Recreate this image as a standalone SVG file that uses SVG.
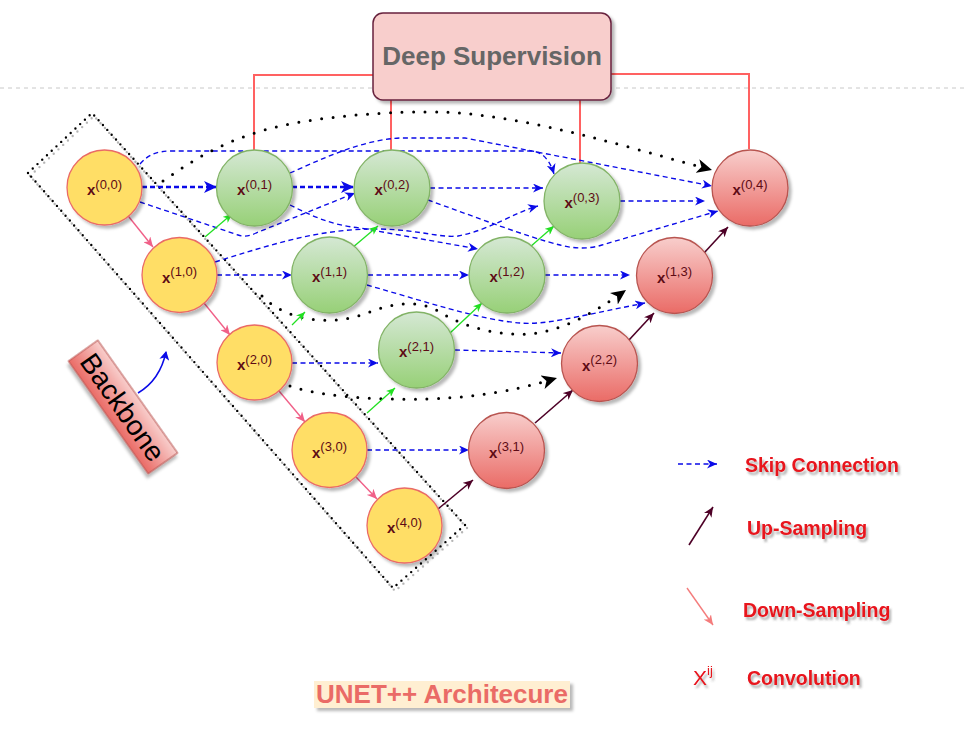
<svg xmlns="http://www.w3.org/2000/svg" width="967" height="729" viewBox="0 0 967 729">
<style>
text{font-family:"Liberation Sans",Arial,sans-serif}
.lbl{fill:#5e0b15;text-anchor:middle}
.xb{font-size:15px;font-weight:bold}
.sup{font-size:13px}
.y{fill:#FFDE66;stroke:#EA6B66;stroke-width:1.3}
.g{fill:url(#gG);stroke:#82b366;stroke-width:1.3}
.r{fill:url(#gR);stroke:#b85450;stroke-width:1.3}
.sk{fill:none;stroke:#0a0ae8;stroke-width:1.35;stroke-dasharray:5 3.5;marker-end:url(#mB)}
.skt{fill:none;stroke:#0a0ae8;stroke-width:2.4;stroke-dasharray:5 3;marker-end:url(#mBt)}
.gr{fill:none;stroke:#22e022;stroke-width:1.3;marker-end:url(#mG)}
.up{fill:none;stroke:#4d0026;stroke-width:1.6;marker-end:url(#mM)}
.dn{fill:none;stroke:#F06088;stroke-width:1.4;marker-end:url(#mP)}
.dot{fill:none;stroke:#000;stroke-width:3;stroke-linecap:round;stroke-dasharray:0 11.5;marker-end:url(#mK)}
.ds{fill:none;stroke:#FF6161;stroke-width:2}
.leg{fill:#E8121C;font-weight:bold;font-size:19.5px}
</style>
<defs>
<linearGradient id="gG" x1="0" y1="0" x2="0" y2="1"><stop offset="0" stop-color="#d5e8d4"/><stop offset="1" stop-color="#97d077"/></linearGradient>
<linearGradient id="gR" x1="0" y1="0" x2="0" y2="1"><stop offset="0" stop-color="#f8cecc"/><stop offset="1" stop-color="#ea6b66"/></linearGradient>
<filter id="sh" x="-20%" y="-20%" width="150%" height="150%"><feDropShadow dx="3" dy="3" stdDeviation="1.5" flood-color="#000" flood-opacity="0.28"/></filter>
<filter id="tsh" x="-10%" y="-30%" width="130%" height="170%"><feDropShadow dx="2" dy="3" stdDeviation="1.2" flood-color="#555" flood-opacity="0.45"/></filter>
<marker id="mB" markerUnits="userSpaceOnUse" markerWidth="11" markerHeight="9" refX="10" refY="4.5" orient="auto"><path d="M0,0 L10,4.5 L0,9 L3,4.5 Z" fill="#0a0ae8"/></marker>
<marker id="mBt" markerUnits="userSpaceOnUse" markerWidth="14" markerHeight="12" refX="13" refY="6" orient="auto"><path d="M0,0 L13,6 L0,12 L3.5,6 Z" fill="#0a0ae8"/></marker>
<marker id="mG" markerUnits="userSpaceOnUse" markerWidth="10" markerHeight="8" refX="9" refY="4" orient="auto"><path d="M0,0 L9,4 L0,8 L2.5,4 Z" fill="#22e022"/></marker>
<marker id="mM" markerUnits="userSpaceOnUse" markerWidth="11" markerHeight="9" refX="10" refY="4.5" orient="auto"><path d="M0,0 L10,4.5 L0,9 L3,4.5 Z" fill="#4d0026"/></marker>
<marker id="mP" markerUnits="userSpaceOnUse" markerWidth="11" markerHeight="9" refX="10" refY="4.5" orient="auto"><path d="M0,0 L10,4.5 L0,9 L3,4.5 Z" fill="#F06088"/></marker>
<marker id="mL" markerUnits="userSpaceOnUse" markerWidth="11" markerHeight="9" refX="10" refY="4.5" orient="auto"><path d="M0,0 L10,4.5 L0,9 L3,4.5 Z" fill="#F47C7C"/></marker>
<marker id="mK" markerUnits="userSpaceOnUse" markerWidth="16" markerHeight="14" refX="15" refY="7" orient="auto"><path d="M0,0 L15,7 L0,14 L4,7 Z" fill="#000"/></marker>
<marker id="mCB" markerUnits="userSpaceOnUse" markerWidth="10" markerHeight="10" refX="8" refY="5" orient="auto"><path d="M0,0 L9,5 L0,10 L2.5,5 Z" fill="#0a0ae8"/></marker>
</defs>
<rect width="967" height="729" fill="#fff"/>
<line x1="0" y1="88" x2="967" y2="88" stroke="#c8c8c8" stroke-width="1" stroke-dasharray="4 4"/>

<g id="backbone-frame" fill="none" stroke-linecap="round" stroke-width="2.4" stroke-dasharray="0 6.5">
<polygon points="30,176 94,116 467,528 395,591" stroke="#b5b5b5"/>
<polygon points="28,173 92,113 465,525 393,588" stroke="#000"/>
</g>

<g id="connectors">
<path class="ds" d="M373,75 L254,75 L254,150"/>
<path class="ds" d="M391,100 L391,150"/>
<path class="ds" d="M580,100 L580,163"/>
<path class="ds" d="M611,74 L749,74 L749,149"/>

<path class="skt" d="M142,187 L217,187"/>
<path class="skt" d="M292,187 L354,187"/>
<path class="sk" d="M140,164 C148,155 156,151 172,151 L530,151 Q547,151 554,174"/>
<path class="sk" d="M290,173 C320,160 360,140 400,138 L465,138 L712,186"/>
<path class="sk" d="M140,202 L238,235 Q246,238 256,233 L355,193"/>
<path class="sk" d="M215,262 C270,245 320,228 380,229 C420,230 440,238 458,236 C490,230 515,212 538,206"/>
<path class="sk" d="M290,205 C310,215 330,225 360,228 L478,249"/>
<path class="sk" d="M430,188 L543,188"/>
<path class="sk" d="M428,200 C470,215 530,238 560,245 C575,249 590,249 602,245 L718,211"/>
<path class="sk" d="M620,201 L705,201"/>
<path class="sk" d="M217,275 L292,275"/>
<path class="sk" d="M368,275 L469,275"/>
<path class="sk" d="M545,275 L630,275"/>
<path class="sk" d="M367,285 C420,300 480,320 520,323 C545,325 570,318 645,303"/>
<path class="sk" d="M292,363 L378,363"/>
<path class="sk" d="M455,350 L561,353"/>
<path class="sk" d="M367,450 L469,450"/>

<path class="dot" d="M163,181 C200,155 230,138 280,126 C340,113 420,110 460,113 C540,120 620,145 712,170"/>
<path class="dot" d="M262,296 C285,320 330,328 370,312 C395,302 420,300 440,312 C465,328 500,336 530,334 C565,330 595,312 626,290"/>
<path class="dot" d="M290,386 C330,400 420,402 470,396 C505,392 530,386 557,378"/>

<path class="dn" d="M125,212 L153,247"/>
<path class="dn" d="M204,303 L230,335"/>
<path class="dn" d="M279,391 L305,422"/>
<path class="dn" d="M356,477 L377,499"/>

<path class="gr" d="M205,237 L232,214"/>
<path class="gr" d="M352,248 L378,226"/>
<path class="gr" d="M292,325 L305,312"/>
<path class="gr" d="M450,333 L482,303"/>
<path class="gr" d="M367,413 L395,388"/>
<path class="gr" d="M530,247 L554,226"/>

<path class="up" d="M438,509 L473,480"/>
<path class="up" d="M535,423 L573,390"/>
<path class="up" d="M629,340 L654,313"/>
<path class="up" d="M704,253 L728,227"/>
</g>

<g id="deep-supervision">
<rect x="373" y="13" width="238" height="87" rx="10" fill="#f8cecc" stroke="#67223e" stroke-width="1.5" filter="url(#sh)"/>
<text x="492" y="65" text-anchor="middle" font-size="26" font-weight="bold" fill="#666">Deep Supervision</text>
</g>

<g id="x00"><circle class="y" cx="104.5" cy="187.5" r="37.5" filter="url(#sh)"/><text class="lbl" x="104.5" y="195"><tspan class="xb">x</tspan><tspan class="sup" dy="-6.5">(0,0)</tspan></text></g>
<g id="x10"><circle class="y" cx="179.5" cy="275" r="37.5" filter="url(#sh)"/><text class="lbl" x="179.5" y="282.5"><tspan class="xb">x</tspan><tspan class="sup" dy="-6.5">(1,0)</tspan></text></g>
<g id="x20"><circle class="y" cx="254.5" cy="362.5" r="37.5" filter="url(#sh)"/><text class="lbl" x="254.5" y="370"><tspan class="xb">x</tspan><tspan class="sup" dy="-6.5">(2,0)</tspan></text></g>
<g id="x30"><circle class="y" cx="329.5" cy="450" r="37.5" filter="url(#sh)"/><text class="lbl" x="329.5" y="457.5"><tspan class="xb">x</tspan><tspan class="sup" dy="-6.5">(3,0)</tspan></text></g>
<g id="x40"><circle class="y" cx="404.5" cy="525.5" r="37.5" filter="url(#sh)"/><text class="lbl" x="404.5" y="533"><tspan class="xb">x</tspan><tspan class="sup" dy="-6.5">(4,0)</tspan></text></g>

<g id="x01"><circle class="g" cx="254.5" cy="188" r="38" filter="url(#sh)"/><text class="lbl" x="254.5" y="195"><tspan class="xb">x</tspan><tspan class="sup" dy="-6.5">(0,1)</tspan></text></g>
<g id="x02"><circle class="g" cx="392" cy="188" r="38" filter="url(#sh)"/><text class="lbl" x="392" y="195"><tspan class="xb">x</tspan><tspan class="sup" dy="-6.5">(0,2)</tspan></text></g>
<g id="x03"><circle class="g" cx="582" cy="201" r="38" filter="url(#sh)"/><text class="lbl" x="582" y="208"><tspan class="xb">x</tspan><tspan class="sup" dy="-6.5">(0,3)</tspan></text></g>
<g id="x11"><circle class="g" cx="329.5" cy="275" r="38" filter="url(#sh)"/><text class="lbl" x="329.5" y="282"><tspan class="xb">x</tspan><tspan class="sup" dy="-6.5">(1,1)</tspan></text></g>
<g id="x12"><circle class="g" cx="507" cy="275" r="38" filter="url(#sh)"/><text class="lbl" x="507" y="282"><tspan class="xb">x</tspan><tspan class="sup" dy="-6.5">(1,2)</tspan></text></g>
<g id="x21"><circle class="g" cx="416.5" cy="350" r="38" filter="url(#sh)"/><text class="lbl" x="416.5" y="357"><tspan class="xb">x</tspan><tspan class="sup" dy="-6.5">(2,1)</tspan></text></g>

<g id="x04"><circle class="r" cx="750" cy="188" r="38" filter="url(#sh)"/><text class="lbl" x="750" y="195"><tspan class="xb">x</tspan><tspan class="sup" dy="-6.5">(0,4)</tspan></text></g>
<g id="x13"><circle class="r" cx="674.5" cy="275.5" r="38" filter="url(#sh)"/><text class="lbl" x="674.5" y="282.5"><tspan class="xb">x</tspan><tspan class="sup" dy="-6.5">(1,3)</tspan></text></g>
<g id="x22"><circle class="r" cx="599.5" cy="363.5" r="38" filter="url(#sh)"/><text class="lbl" x="599.5" y="370.5"><tspan class="xb">x</tspan><tspan class="sup" dy="-6.5">(2,2)</tspan></text></g>
<g id="x31"><circle class="r" cx="506.5" cy="450.5" r="38" filter="url(#sh)"/><text class="lbl" x="506.5" y="457.5"><tspan class="xb">x</tspan><tspan class="sup" dy="-6.5">(3,1)</tspan></text></g>

<g id="backbone-label">
<g transform="translate(123,407) rotate(54.7)">
<rect x="-69" y="-18" width="138" height="36" fill="url(#gR)" stroke="#b85450" stroke-width="1" filter="url(#sh)"/>
<text x="0" y="10" text-anchor="middle" font-size="28" fill="#000">Backbone</text>
</g>
<path d="M138,393 Q160,380 166,352" fill="none" stroke="#0a0ae8" stroke-width="1.5" marker-end="url(#mCB)"/>
</g>

<g id="legend">
<path d="M678,464 L717,464" class="sk"/>
<text class="leg" x="745" y="472" filter="url(#tsh)">Skip Connection</text>
<path d="M689,545 L713,507" class="up"/>
<text class="leg" x="747" y="535" filter="url(#tsh)">Up-Sampling</text>
<path d="M687,588 L713,625" fill="none" stroke="#F47C7C" stroke-width="1.4" marker-end="url(#mL)"/>
<text class="leg" x="743" y="617" filter="url(#tsh)">Down-Sampling</text>
<text x="693" y="685" fill="#E8121C" font-size="21" filter="url(#tsh)">X<tspan font-size="13" dy="-10">ij</tspan></text>
<text class="leg" x="747" y="685" filter="url(#tsh)">Convolution</text>
</g>

<g id="title">
<rect x="314" y="681" width="256" height="27" fill="#FFEFD2" filter="url(#sh)"/>
<text x="442" y="703" text-anchor="middle" font-size="26" font-weight="bold" fill="#EA6B66">UNET++ Architecure</text>
</g>
</svg>
